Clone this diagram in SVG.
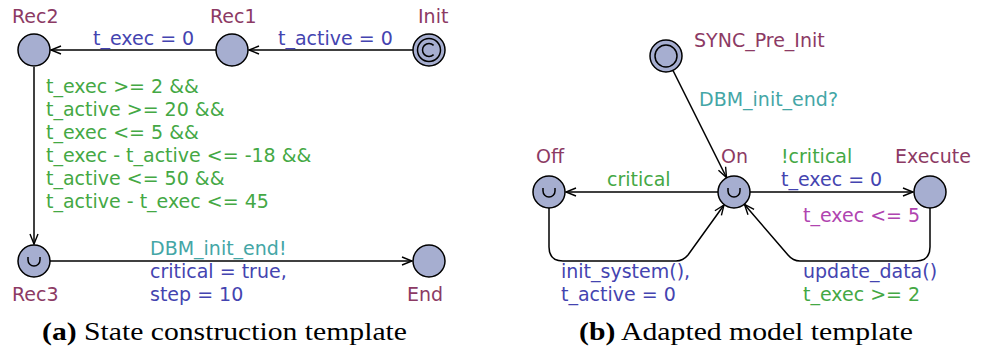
<svg xmlns="http://www.w3.org/2000/svg" width="984" height="351" viewBox="0 0 984 351">
<style>
text{font-family:"DejaVu Sans",sans-serif;font-size:19px}
.nm{fill:#8c3a64}
.as{fill:#4444b0}
.gd{fill:#44a844}
.sy{fill:#44a6a6}
.iv{fill:#b044b0}
.loc{fill:#a6aed0;stroke:#000;stroke-width:1.5}
.sym{fill:none;stroke:#000;stroke-width:1.5}
.edge{fill:none;stroke:#000;stroke-width:1.5;marker-end:url(#arr)}
.cap{font-family:"Liberation Serif","Times New Roman",serif;font-size:25px;fill:#000}
</style>
<defs>
<marker id="arr" markerUnits="userSpaceOnUse" markerWidth="14" markerHeight="12" refX="11" refY="5" orient="auto">
<path d="M1,1 L11,5 L1,9" fill="none" stroke="#000" stroke-width="1.4"/>
</marker>
</defs>
<g id="connectors">
<line class="edge" x1="413" y1="50" x2="249" y2="50"/>
<line class="edge" x1="216" y1="50" x2="51" y2="50"/>
<line class="edge" x1="34" y1="67" x2="34" y2="244"/>
<line class="edge" x1="50" y1="261" x2="412" y2="261"/>
<line class="edge" x1="673" y1="70.5" x2="726.5" y2="177.5"/>
<line class="edge" x1="718" y1="192" x2="566" y2="192"/>
<line class="edge" x1="750" y1="192" x2="913" y2="192"/>
<path class="edge" d="M549,208 L549,247 Q549,261 563,261 L676,261 Q683,261 688,255 L724,205"/>
<path class="edge" d="M930,208 L930,247 Q930,261 916,261 L800,261 Q793,261 788,255 L744.5,204.5"/>
</g>
<g id="Init">
<circle class="loc" cx="429" cy="50" r="16"/>
<circle class="sym" cx="429" cy="50" r="11.5"/>
<path class="sym" d="M433.6,45.4 A6.5,6.5 0 1 0 433.6,54.6"/>
<text class="nm" x="418" y="23">Init</text>
</g>
<g id="Rec1">
<circle class="loc" cx="232" cy="50" r="16"/>
<text class="nm" x="210" y="23">Rec1</text>
</g>
<g id="Rec2">
<circle class="loc" cx="34" cy="50" r="16"/>
<text class="nm" x="12" y="23">Rec2</text>
</g>
<g id="Rec3">
<circle class="loc" cx="34" cy="261" r="16"/>
<path class="sym" d="M28,257 L28,260 A6,6 0 0 0 40,260 L40,257"/>
<text class="nm" x="12" y="301">Rec3</text>
</g>
<g id="End">
<circle class="loc" cx="429" cy="261" r="16"/>
<text class="nm" x="407" y="301">End</text>
</g>
<g id="labels-a">
<text class="as" x="278" y="45">t_active = 0</text>
<text class="as" x="93" y="45">t_exec = 0</text>
<text class="gd" x="46" y="93">t_exec &gt;= 2 &amp;&amp;</text>
<text class="gd" x="46" y="116">t_active &gt;= 20 &amp;&amp;</text>
<text class="gd" x="46" y="139">t_exec &lt;= 5 &amp;&amp;</text>
<text class="gd" x="46" y="162">t_exec - t_active &lt;= -18 &amp;&amp;</text>
<text class="gd" x="46" y="185">t_active &lt;= 50 &amp;&amp;</text>
<text class="gd" x="46" y="208">t_active - t_exec &lt;= 45</text>
<text class="sy" x="150" y="255">DBM_init_end!</text>
<text class="as" x="150" y="278">critical = true,</text>
<text class="as" x="150" y="301">step = 10</text>
</g>
<g id="SYNC_Pre_Init">
<circle class="loc" cx="666" cy="56" r="16"/>
<circle class="sym" cx="666" cy="56" r="11"/>
<text class="nm" x="694" y="47">SYNC_Pre_Init</text>
</g>
<g id="On">
<circle class="loc" cx="734" cy="192" r="16"/>
<path class="sym" d="M728,188 L728,191 A6,6 0 0 0 740,191 L740,188"/>
<text class="nm" x="721" y="163">On</text>
</g>
<g id="Off">
<circle class="loc" cx="549" cy="192" r="16"/>
<path class="sym" d="M543,188 L543,191 A6,6 0 0 0 555,191 L555,188"/>
<text class="nm" x="536" y="163">Off</text>
</g>
<g id="Execute">
<circle class="loc" cx="930" cy="192" r="16"/>
<text class="nm" x="895" y="163">Execute</text>
</g>
<g id="labels-b">
<text class="sy" x="699" y="106">DBM_init_end?</text>
<text class="gd" x="607" y="186">critical</text>
<text class="gd" x="781" y="163">!critical</text>
<text class="as" x="781" y="186">t_exec = 0</text>
<text class="iv" x="803" y="222">t_exec &lt;= 5</text>
<text class="as" x="561" y="278">init_system(),</text>
<text class="as" x="561" y="301">t_active = 0</text>
<text class="as" x="803" y="278">update_data()</text>
<text class="gd" x="803" y="301">t_exec &gt;= 2</text>
</g>
<g id="captions">
<text class="cap" x="42" y="340" textLength="365" lengthAdjust="spacingAndGlyphs"><tspan font-weight="bold">(a)</tspan> State construction template</text>
<text class="cap" x="579" y="340" textLength="334" lengthAdjust="spacingAndGlyphs"><tspan font-weight="bold">(b)</tspan> Adapted model template</text>
</g>
</svg>
